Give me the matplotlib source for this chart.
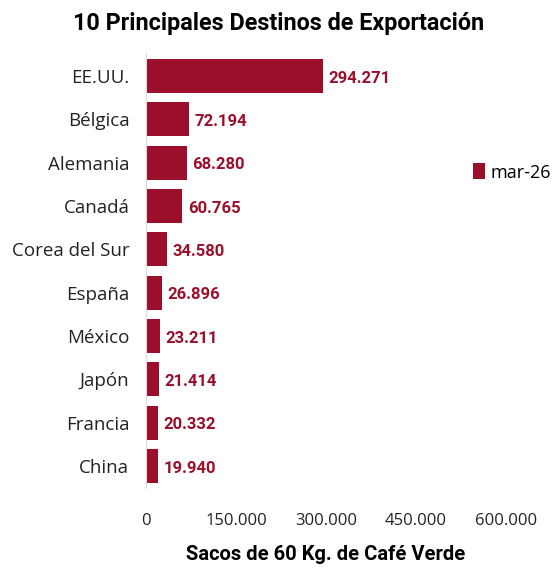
import matplotlib
matplotlib.use("Agg")
import matplotlib.pyplot as plt
from matplotlib import font_manager as fm

names = {f.name for f in fm.fontManager.ttflist}
cond = "Liberation Sans Narrow" if "Liberation Sans Narrow" in names else "Roboto"

categories = ["EE.UU.", "Bélgica", "Alemania", "Canadá", "Corea del Sur",
              "España", "México", "Japón", "Francia", "China"]
values = [294271, 72194, 68280, 60765, 34580, 26896, 23211, 21414, 20332, 19940]
value_labels = ["294.271", "72.194", "68.280", "60.765", "34.580",
                "26.896", "23.211", "21.414", "20.332", "19.940"]
xticks = [0, 150000, 300000, 450000, 600000]
xtick_labels = ["0", "150.000", "300.000", "450.000", "600.000"]
series_name = "mar-26"
color = "#9B0F2B"

fig = plt.figure(figsize=(5.58, 5.69), dpi=100)
ax = fig.add_axes([0.2616, 0.1429, 0.6452, 0.7617])
y = list(range(len(categories)))
ax.barh(y, values, height=0.79, color=color, label=series_name)
ax.set_ylim(len(categories) - 0.5, -0.5)
ax.set_xlim(0, 600000)
ax.set_yticks(y)
ax.set_yticklabels(categories, fontsize=13.5, family="Open Sans", color="#222222")
ax.set_xticks(xticks)
ax.set_xticklabels(xtick_labels, fontsize=12, family="Open Sans", color="#222222")
ax.tick_params(length=0)
ax.tick_params(axis="y", pad=12)
ax.tick_params(axis="x", pad=18)
for s in ["top", "right", "bottom"]:
    ax.spines[s].set_visible(False)
ax.spines["left"].set_color("#d9d9d9")
for yi, v, lab in zip(y, values, value_labels):
    ax.text(v + 9000, yi + 0.05, lab, va="center", ha="left", fontsize=12,
            fontweight="bold", color=color, family=cond)
ax.set_xlabel("Sacos de 60 Kg. de Café Verde", fontsize=14.5, fontweight="bold",
              family=cond, labelpad=12)
fig.text(0.5, 0.958, "10 Principales Destinos de Exportación", ha="center",
         va="center", fontsize=16.8, fontweight="bold", family=cond)
fig.legend(loc="center left", bbox_to_anchor=(0.847, 0.697), frameon=False,
           borderaxespad=0, borderpad=0,
           handlelength=0.7, handleheight=1.0, handletextpad=0.3,
           prop={"family": "Open Sans", "size": 13})
fig.savefig("out.png", dpi=100)
